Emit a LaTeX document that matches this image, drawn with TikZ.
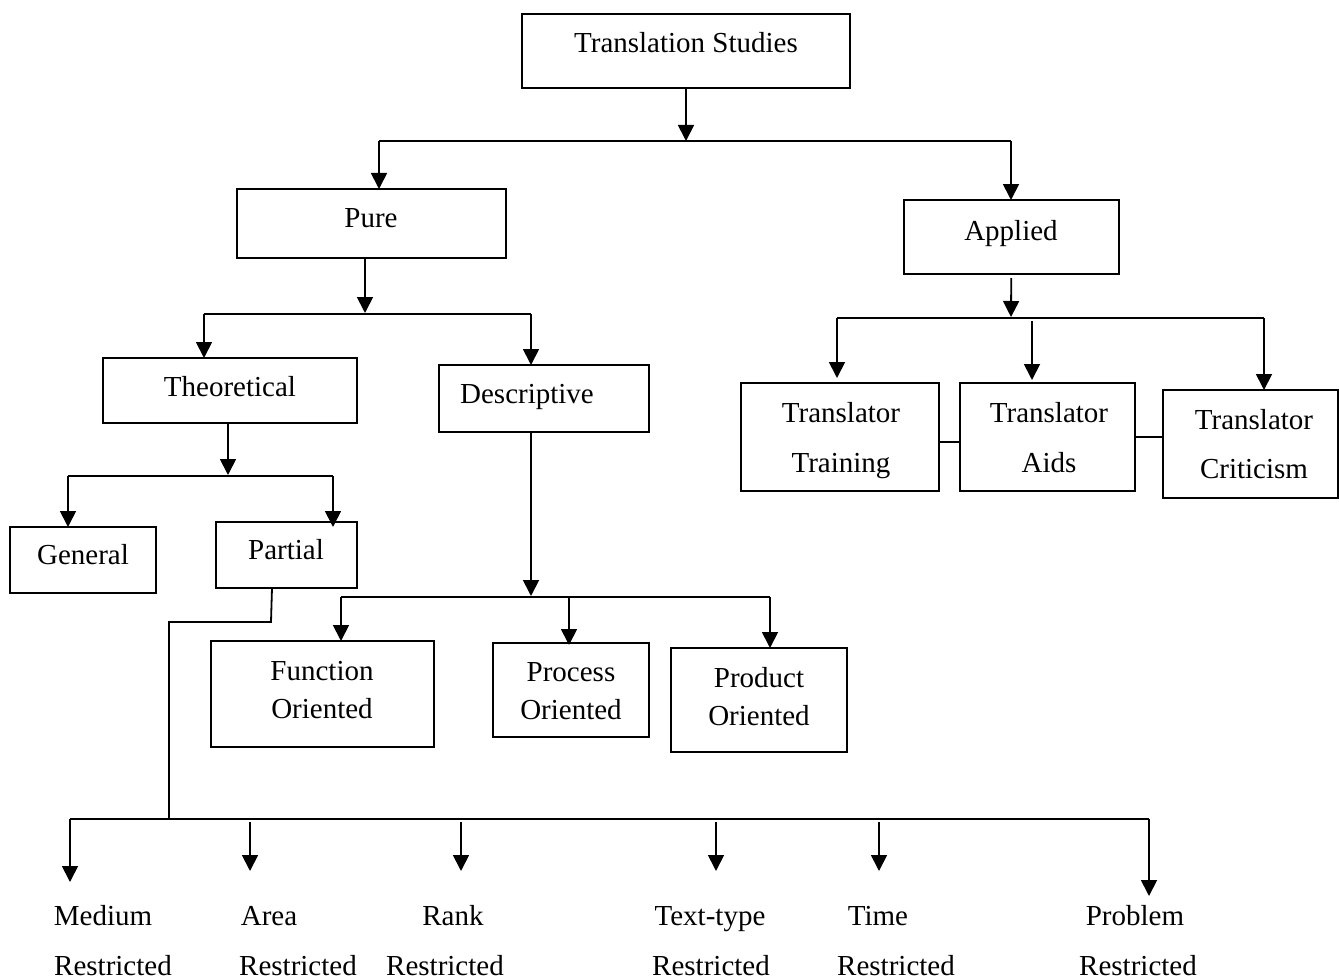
\documentclass[tikz,border=0pt]{standalone}
\usepackage{fontspec}
\setmainfont{Liberation Serif}
\usetikzlibrary{arrows.meta}
\newcommand\mkbox[5]{\node[box, minimum width={(#4-#2)*1pt}, minimum height={(#5-#3)*1pt}] (#1) at ({(#2+#4)/2},{(#3+#5)/2}) {};}
\begin{document}
\begin{tikzpicture}[x=1pt,y=-1pt,
  line width=1.8pt,
  arr/.style={-{Triangle[length=16pt,width=16pt]}},
  box/.style={draw, line width=1.8pt, inner sep=0pt, outer sep=0pt},
  lbl/.style={font=\fontsize{29}{34}\selectfont, inner sep=0pt, anchor=base},
]
\useasboundingbox (0,0) rectangle (1339,979);

% boxes
\mkbox{ts}{522}{14}{850}{88}
\mkbox{pure}{237}{189}{506}{258}
\mkbox{applied}{904}{200}{1119}{274}
\mkbox{theo}{103}{358}{357}{423}
\mkbox{desc}{439}{365}{649}{432}
\mkbox{gen}{10}{527}{156}{593}
\mkbox{partial}{216}{522}{357}{588}
\mkbox{func}{211}{641}{434}{747}
\mkbox{proc}{493}{643}{649}{737}
\mkbox{prod}{671}{648}{847}{752}
\mkbox{tt}{741}{383}{939}{491}
\mkbox{ta}{960}{383}{1135}{491}
\mkbox{tc}{1163}{390}{1338}{498}

% box texts
\node[lbl] (tsT) at (686,53) {Translation Studies};
\node[lbl] (pureT) at (371,227) {Pure};
\node[lbl] (appliedT) at (1011,240) {Applied};
\node[lbl] (theoT) at (230,396) {Theoretical};
\node[lbl] (descT) at (527,403) {Descriptive};
\node[lbl] (genT) at (83,564) {General};
\node[lbl] (partialT) at (286,559) {Partial};
\node[lbl] (funcA) at (322,680) {Function};
\node[lbl] (funcB) at (322,718) {Oriented};
\node[lbl] (procA) at (571,681) {Process};
\node[lbl] (procB) at (571,719) {Oriented};
\node[lbl] (prodA) at (759,687) {Product};
\node[lbl] (prodB) at (759,725) {Oriented};
\node[lbl] (ttA) at (841,422) {Translator};
\node[lbl] (ttB) at (841,472) {Training};
\node[lbl] (taA) at (1049,422) {Translator};
\node[lbl] (taB) at (1049,472) {Aids};
\node[lbl] (tcA) at (1254,429) {Translator};
\node[lbl] (tcB) at (1254,478) {Criticism};

% bottom labels
\node[lbl] (medA) at (103,925) {Medium};
\node[lbl] (medB) at (113,975) {Restricted};
\node[lbl] (areaA) at (269,925) {Area};
\node[lbl] (areaB) at (298,975) {Restricted};
\node[lbl] (rankA) at (453,925) {Rank};
\node[lbl] (rankB) at (445,975) {Restricted};
\node[lbl] (textA) at (710,925) {Text-type};
\node[lbl] (textB) at (711,975) {Restricted};
\node[lbl] (timeA) at (878,925) {Time};
\node[lbl] (timeB) at (896,975) {Restricted};
\node[lbl] (probA) at (1135,925) {Problem};
\node[lbl] (probB) at (1138,975) {Restricted};

% Translation Studies -> Pure / Applied
\coordinate (j1) at (686,141);
\coordinate (jp) at (379,141);
\coordinate (ja) at (1011,141);
\draw[arr] (ts) -- (j1);
\draw (jp) -- (ja);
\draw[arr] (jp) -- (jp |- pure.north);
\draw[arr] (ja) -- (ja |- applied.north);

% Pure -> Theoretical / Descriptive
\coordinate (j2) at (365,313);
\coordinate (jt) at (204,314);
\coordinate (jd) at (531,314);
\draw[arr] (j2 |- pure.south) -- (j2);
\draw (jt) -- (jd);
\draw[arr] (jt) -- (jt |- theo.north);
\draw[arr] (jd) -- (jd |- desc.north);

% Theoretical -> General / Partial
\coordinate (j3) at (228,475);
\coordinate (jg) at (68,476);
\coordinate (jpa) at (333,476);
\draw[arr] (j3 |- theo.south) -- (j3);
\draw (jg) -- (jpa);
\draw[arr] (jg) -- (jg |- gen.north);
\draw[arr] (jpa) -- ([yshift=-5pt]jpa |- partial.north);

% Descriptive -> Function / Process / Product
\coordinate (j4) at (531,596);
\coordinate (jf) at (341,597);
\coordinate (jpc) at (569,597);
\coordinate (jpr) at (770,597);
\draw[arr] (j4 |- desc.south) -- (j4);
\draw (jf) -- (jpr);
\draw[arr] (jf) -- (jf |- func.north);
\draw[arr] (jpc) -- ([yshift=-2pt]jpc |- proc.north);
\draw[arr] (jpr) -- (jpr |- prod.north);

% Partial -> restricted branches
\coordinate (k0) at (272,588);
\coordinate (k1) at (271,622);
\coordinate (k2) at (169,622);
\coordinate (k3) at (169,819);
\draw (k0) -- (k1) -- (k2) -- (k3);
\coordinate (bl) at (70,819);
\coordinate (br) at (1149,819);
\draw (bl) -- (br);
\coordinate (tMed) at (70,882);
\coordinate (tProb) at (1149,896);
\draw[arr] (bl) -- (tMed);
\draw[arr] (br) -- (tProb);
\coordinate (a1s) at (250,822); \coordinate (a1e) at (250,871);
\coordinate (a2s) at (461,822); \coordinate (a2e) at (461,871);
\coordinate (a3s) at (716,822); \coordinate (a3e) at (716,871);
\coordinate (a4s) at (879,822); \coordinate (a4e) at (879,871);
\draw[arr] (a1s) -- (a1e);
\draw[arr] (a2s) -- (a2e);
\draw[arr] (a3s) -- (a3e);
\draw[arr] (a4s) -- (a4e);

% Applied -> Translator boxes
\coordinate (j5) at (1011,317);
\coordinate (jtt) at (837,318);
\coordinate (jta) at (1032,321);
\coordinate (jtc) at (1264,318);
\draw[arr, shorten <=4pt] (applied) -- (j5);
\draw (jtt) -- (jtc);
\draw[arr] (jtt) -- ([yshift=5pt]jtt |- tt.north);
\draw[arr] (jta) -- ([yshift=3pt]jta |- ta.north);
\draw[arr] (jtc) -- (jtc |- tc.north);
\coordinate (h1) at (950,442);
\coordinate (h2) at (1150,437);
\draw (h1 -| tt.east) -- (h1 -| ta.west);
\draw (h2 -| ta.east) -- (h2 -| tc.west);
\end{tikzpicture}
\end{document}
